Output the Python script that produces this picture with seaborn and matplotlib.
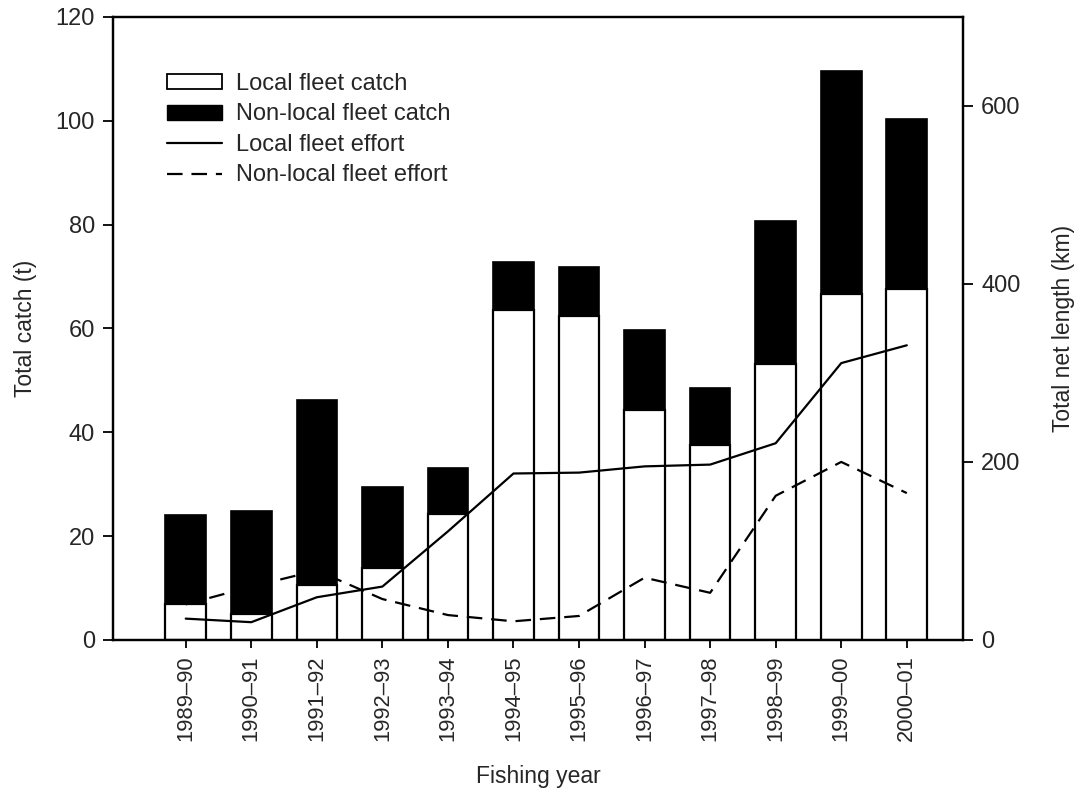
import numpy as np
import pandas as pd
import matplotlib
matplotlib.use("Agg")
import matplotlib.pyplot as plt
import seaborn as sns
from matplotlib.patches import Patch
from matplotlib.lines import Line2D

years = ["1989–90", "1990–91", "1991–92", "1992–93", "1993–94", "1994–95",
         "1995–96", "1996–97", "1997–98", "1998–99", "1999–00", "2000–01"]
local_catch = [7.0, 5.1, 10.5, 13.9, 24.2, 63.5, 62.4, 44.3, 37.5, 53.1, 66.6, 67.5]
total_catch = [24.0, 24.9, 46.2, 29.5, 33.2, 72.7, 71.9, 59.6, 48.6, 80.7, 109.5, 100.3]
local_effort = [24, 20, 48, 60, 122, 187, 188, 195, 197, 221, 311, 331]
nonlocal_effort = [40, 60, 78, 46, 28, 21, 27, 70, 53, 162, 200, 165]

sns.set_theme(style="ticks")
plt.rcParams['font.family'] = ['Liberation Sans', 'DejaVu Sans']

df = pd.DataFrame({
    "year": years,
    "pos": np.arange(len(years)),
    "local": local_catch,
    "total": total_catch,
    "leff": local_effort,
    "neff": nonlocal_effort,
})

fig = plt.figure(figsize=(10.81, 7.98), dpi=100)
ax = fig.add_axes([0.1045, 0.198, 0.7865, 0.781])

sns.barplot(data=df, x="year", y="total", order=years, color="black",
            edgecolor="black", linewidth=1.2, width=0.62, saturation=1, ax=ax)
sns.barplot(data=df, x="year", y="local", order=years, color="white",
            edgecolor="black", linewidth=1.6, width=0.62, saturation=1, ax=ax)

ax.set_xlim(-1.11, 11.86)
ax.set_ylim(0, 120)
ax.set_yticks([0, 20, 40, 60, 80, 100, 120])
ax.set_xlabel("Fishing year", fontsize=16.5, labelpad=17)
ax.set_ylabel("Total catch (t)", fontsize=16.5, labelpad=13)
ax.tick_params(axis="x", rotation=90, labelsize=15.8, length=6, width=1.3,
               color="black", pad=5)
ax.tick_params(axis="y", labelsize=17, length=7, width=1.3, color="black", pad=6)
for s in ax.spines.values():
    s.set_color("black")
    s.set_linewidth(1.6)

ax2 = ax.twinx()
sns.lineplot(data=df, x="pos", y="leff", color="black", linewidth=1.6, ax=ax2)
sns.lineplot(data=df, x="pos", y="neff", color="black", linewidth=1.6,
             dashes=False, ax=ax2, linestyle=(0, (7, 4)))
ax2.set_ylim(0, 700)
ax2.set_yticks([0, 200, 400, 600])
ax2.set_xlim(-1.11, 11.86)
ax2.set_ylabel("Total net length (km)", fontsize=16.5, labelpad=22.5)
ax2.tick_params(axis="y", labelsize=17, length=7, width=1.3, color="black", pad=6)
for s in ax2.spines.values():
    s.set_color("black")
    s.set_linewidth(1.6)

handles = [
    Patch(facecolor="white", edgecolor="black", linewidth=1.3),
    Patch(facecolor="black", edgecolor="black"),
    Line2D([0], [0], color="black", linewidth=1.6),
    Line2D([0], [0], color="black", linewidth=1.6, linestyle=(0, (7, 4))),
]
labels = ["Local fleet catch", "Non-local fleet catch", "Local fleet effort", "Non-local fleet effort"]
ax2.legend(handles, labels, loc="upper left", bbox_to_anchor=(0.052, 0.925),
           frameon=False, fontsize=17, handlelength=2.35, handleheight=0.6,
           labelspacing=0.36, handletextpad=0.6, borderaxespad=0)

fig.savefig("out.png", dpi=100, facecolor="white")
